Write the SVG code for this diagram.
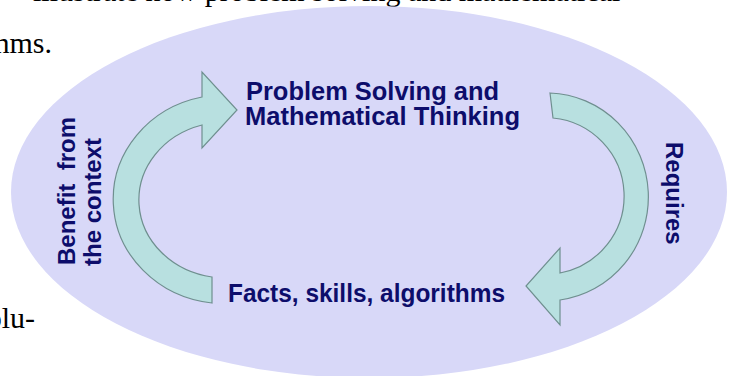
<svg xmlns="http://www.w3.org/2000/svg" width="734" height="376" viewBox="0 0 734 376">
  <style>
    .page { font-family: "Liberation Serif", "Times New Roman", serif; font-size: 30px; fill: #000000; }
    .lbl { font-family: "Liberation Sans", Arial, sans-serif; font-size: 24px; font-weight: bold; fill: #0d0d6b; }
    .big { font-size: 25px; }
    .arrow { fill: #b8e0e0; stroke: #6f8f8f; stroke-width: 1.2; stroke-linejoin: miter; }
  </style>
  <rect width="734" height="376" fill="#ffffff"/>
  <g id="page-text">
    <text class="page" x="33" y="0.5">illustrate how problem solving and mathematical</text>
    <text class="page" x="52" y="53" text-anchor="end">algorithms.</text>
    <text class="page" x="35" y="328" text-anchor="end">solu-</text>
  </g>
  <ellipse id="background" cx="369" cy="192" rx="358" ry="186" fill="#d8d8f8"/>
  <g id="connectors">
    <path class="arrow" d="M 212 303 L 212 277 A 87 78 0 0 1 202 125 L 202 148 L 237 110 L 202 72 L 202 97 A 112 104.5 0 0 0 212 303 Z"/>
    <path class="arrow" d="M 550 93 A 102 104 0 0 1 560 300 L 560 325 L 526 286 L 560 248 L 560 273 A 79 78.4 0 0 0 553 118 Z"/>
    <text class="lbl" transform="translate(75,265) rotate(-90)">Benefit&#160; from</text>
    <text class="lbl" transform="translate(101,266) rotate(-90)">the context</text>
    <text class="lbl" transform="translate(666,142) rotate(90)">Requires</text>
  </g>
  <g id="node-problem-solving">
    <text class="lbl big" x="246" y="100" textLength="253" lengthAdjust="spacingAndGlyphs">Problem Solving and</text>
    <text class="lbl big" x="245" y="125" textLength="275" lengthAdjust="spacingAndGlyphs">Mathematical Thinking</text>
  </g>
  <g id="node-facts">
    <text class="lbl big" x="228" y="302" textLength="277" lengthAdjust="spacingAndGlyphs">Facts, skills, algorithms</text>
  </g>
</svg>
